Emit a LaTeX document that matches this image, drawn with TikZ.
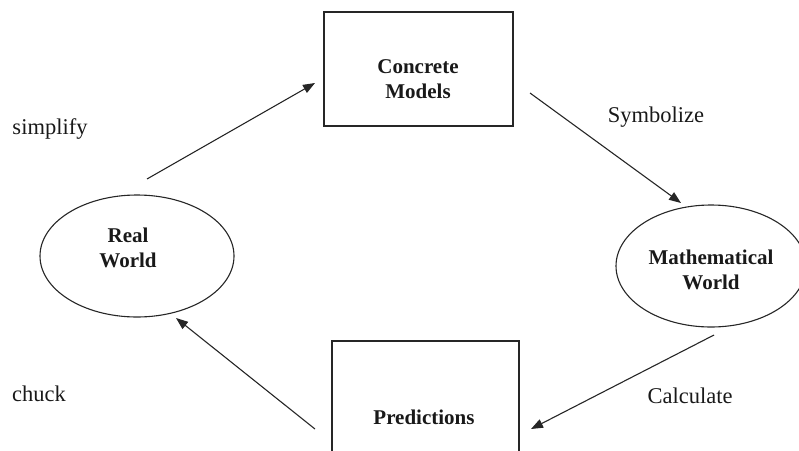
\documentclass[tikz,border=0pt]{standalone}
\usepackage{fontspec}
\setmainfont{Liberation Serif}
\usetikzlibrary{arrows.meta,shapes.geometric}
\begin{document}
\begin{tikzpicture}[x=1pt,y=-1pt,
  shapeline/.style={draw=black!85, line width=1.1pt},
  boxshape/.style={shapeline, rectangle, inner sep=0pt},
  ovalshape/.style={shapeline, ellipse, inner sep=0pt},
  nodetext/.style={font=\fontsize{21}{25}\selectfont\bfseries, align=center, text=black!90, inner sep=0pt},
  labeltext/.style={font=\fontsize{22.5}{26}\selectfont, anchor=base, text=black!90, inner sep=0pt},
  flow/.style={draw=black!85, line width=1.1pt, -{Triangle[length=12pt,width=9pt]}}]
\useasboundingbox (0,0) rectangle (799,450);
\clip (0,0) rectangle (799,450);
% shapes
\node[boxshape, minimum width=189pt, minimum height=114pt] (cm) at (418.5,69) {};
\node[boxshape, minimum width=187pt, minimum height=120pt] (pr) at (425.5,401) {};
\node[ovalshape, minimum width=194pt, minimum height=122pt] (rw) at (137,256) {};
\node[ovalshape, minimum width=190pt, minimum height=122pt] (mw) at (711,266) {};
% texts
\node[nodetext] (cmt) at (418,79.5) {Concrete\\Models};
\node[nodetext, anchor=base] (prt) at (424,424) {Predictions};
\node[nodetext] (rwt) at (128,247.5) {Real\\World};
\node[nodetext] (mwt) at (711,270) {Mathematical\\World};
% labels
\node[labeltext] (l1) at (50,134) {simplify};
\node[labeltext] (l2) at (656,122) {Symbolize};
\node[labeltext] (l3) at (690,403) {Calculate};
\node[labeltext] (l4) at (39,401) {chuck};
% arrow ends
\coordinate (a1s) at (147,179); \coordinate (a1e) at (315,83);
\coordinate (a2s) at (530,93);  \coordinate (a2e) at (681,203);
\coordinate (a3s) at (714,335); \coordinate (a3e) at (531,429);
\coordinate (a4s) at (315,429); \coordinate (a4e) at (176,318);
\draw[flow] (a1s) -- (a1e);
\draw[flow] (a2s) -- (a2e);
\draw[flow] (a3s) -- (a3e);
\draw[flow] (a4s) -- (a4e);
\end{tikzpicture}
\end{document}
